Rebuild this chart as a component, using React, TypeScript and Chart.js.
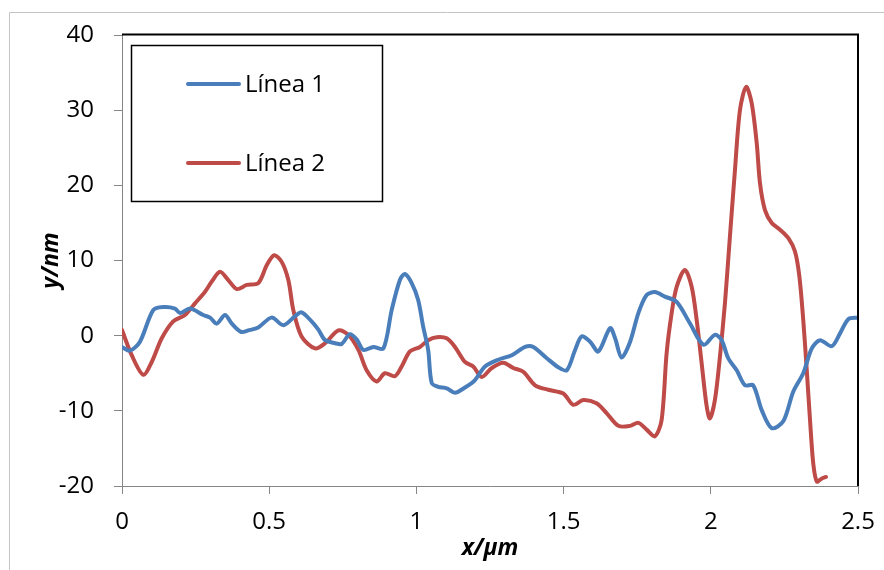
import React, { useEffect, useRef } from "react";
import { Chart, registerables } from "chart.js";

Chart.register(...registerables);

// ---- Data (x in µm, y in nm) ----
const seriesNames = ["Línea 1", "Línea 2"];

const linea1X = [0.0, 0.027, 0.061, 0.106, 0.14, 0.18, 0.197, 0.231, 0.276, 0.299, 0.322, 0.35, 0.373, 0.404, 0.429, 0.463, 0.508, 0.548, 0.588, 0.61, 0.644, 0.667, 0.69, 0.724, 0.746, 0.774, 0.797, 0.82, 0.854, 0.888, 0.916, 0.944, 0.961, 0.984, 1.006, 1.023, 1.04, 1.052, 1.074, 1.103, 1.131, 1.165, 1.199, 1.233, 1.278, 1.324, 1.369, 1.397, 1.443, 1.482, 1.511, 1.539, 1.561, 1.59, 1.618, 1.658, 1.675, 1.697, 1.726, 1.754, 1.782, 1.81, 1.844, 1.884, 1.929, 1.975, 2.014, 2.037, 2.059, 2.088, 2.116, 2.144, 2.173, 2.207, 2.246, 2.28, 2.314, 2.343, 2.371, 2.411, 2.439, 2.467, 2.5];
const linea1Y = [-1.5, -2.0, -0.8, 3.4, 3.8, 3.6, 3.0, 3.6, 2.75, 2.4, 1.6, 2.75, 1.6, 0.5, 0.7, 1.1, 2.4, 1.4, 2.6, 3.1, 1.9, 0.8, -0.6, -1.0, -1.1, 0.2, -0.5, -1.9, -1.5, -1.7, 3.4, 7.4, 8.2, 7.0, 4.75, 1.2, -1.9, -6.3, -6.8, -7.0, -7.6, -6.9, -5.9, -4.1, -3.2, -2.6, -1.5, -1.5, -3.0, -4.2, -4.6, -1.9, -0.1, -0.8, -2.1, 1.0, -0.35, -2.9, -0.8, 3.0, 5.4, 5.8, 5.2, 4.5, 1.65, -1.2, 0.1, -0.6, -3.0, -4.6, -6.6, -6.6, -9.9, -12.3, -11.4, -7.45, -5.0, -1.7, -0.6, -1.4, 0.3, 2.2, 2.4];

const linea2X = [0.0, 0.033, 0.072, 0.101, 0.135, 0.174, 0.214, 0.248, 0.282, 0.305, 0.333, 0.361, 0.39, 0.424, 0.463, 0.492, 0.517, 0.542, 0.565, 0.582, 0.61, 0.656, 0.69, 0.735, 0.769, 0.803, 0.831, 0.865, 0.893, 0.927, 0.95, 0.978, 1.012, 1.04, 1.069, 1.103, 1.131, 1.165, 1.193, 1.222, 1.256, 1.295, 1.329, 1.363, 1.403, 1.448, 1.499, 1.533, 1.567, 1.612, 1.646, 1.686, 1.726, 1.754, 1.782, 1.81, 1.833, 1.85, 1.867, 1.884, 1.912, 1.935, 1.952, 1.969, 1.986, 1.997, 2.014, 2.031, 2.048, 2.065, 2.082, 2.099, 2.12, 2.139, 2.156, 2.167, 2.184, 2.207, 2.235, 2.263, 2.286, 2.301, 2.314, 2.326, 2.337, 2.348, 2.36, 2.377, 2.391];
const linea2Y = [0.75, -2.6, -5.2, -3.5, -0.35, 1.9, 2.75, 4.3, 5.85, 7.2, 8.5, 7.4, 6.2, 6.75, 7.0, 9.4, 10.7, 9.85, 7.4, 3.4, -0.1, -1.7, -1.0, 0.7, 0.1, -1.9, -4.6, -6.1, -5.0, -5.4, -4.1, -2.1, -1.5, -0.6, -0.2, -0.35, -1.5, -3.5, -4.1, -5.5, -4.3, -3.6, -4.3, -4.8, -6.6, -7.2, -7.7, -9.2, -8.55, -9.0, -10.3, -12.0, -12.0, -11.6, -12.5, -13.4, -11.2, -2.3, 3.0, 6.5, 8.75, 6.5, 2.1, -3.7, -9.4, -11.0, -8.55, -2.8, 4.3, 13.2, 22.0, 30.0, 33.1, 30.9, 25.6, 20.3, 16.7, 15.0, 14.1, 13.0, 11.2, 7.85, 2.1, -4.6, -11.2, -17.0, -19.4, -19.0, -18.8];

const xTickValues = [0, 0.5, 1, 1.5, 2, 2.5];
const yTickValues = [-20, -10, 0, 10, 20, 30, 40];

const seriesColors = ["#4a7ebb", "#be4b48"];

const TICK_FONT = { family: "'Open Sans', sans-serif", size: 24 };
const TITLE_FONT = { family: "'Open Sans', sans-serif", size: 23, weight: "bold" as const, style: "italic" as const };

const framePlugin = {
  id: "framePlugin",
  beforeDraw(chart: any) {
    const ctx = chart.ctx;
    ctx.save();
    ctx.fillStyle = "#ffffff";
    ctx.fillRect(0, 0, chart.width, chart.height);
    ctx.strokeStyle = "#c4c4c4";
    ctx.lineWidth = 1;
    ctx.beginPath();
    ctx.moveTo(9.5, chart.height + 2);
    ctx.lineTo(9.5, 12.5);
    ctx.lineTo(chart.width + 2, 12.5);
    ctx.stroke();
    ctx.restore();
  },
  afterDatasetsDraw(chart: any) {
    const { ctx, chartArea } = chart;
    ctx.save();
    ctx.strokeStyle = "#000000";
    ctx.lineWidth = 2;
    ctx.beginPath();
    ctx.moveTo(chartArea.left, chartArea.top - 0.5);
    ctx.lineTo(chartArea.right, chartArea.top - 0.5);
    ctx.lineTo(chartArea.right, chartArea.bottom);
    ctx.stroke();
    ctx.restore();
  },
  afterDraw(chart: any) {
    const ctx = chart.ctx;
    ctx.save();
    // legend box
    ctx.strokeStyle = "#000000";
    ctx.lineWidth = 1.5;
    ctx.strokeRect(131.5, 45.5, 251, 156);
    const rows = [84, 163];
    chart.data.datasets.forEach((ds: any, i: number) => {
      const y = rows[i];
      ctx.strokeStyle = ds.borderColor;
      ctx.lineWidth = 4;
      ctx.lineCap = "round";
      ctx.beginPath();
      ctx.moveTo(188, y);
      ctx.lineTo(239, y);
      ctx.stroke();
      ctx.fillStyle = "#000000";
      ctx.font = "24px 'Open Sans', sans-serif";
      ctx.textBaseline = "middle";
      ctx.textAlign = "left";
      ctx.fillText(ds.label, 245, y + 1);
    });
    ctx.restore();
  },
};

export default function App() {
  const canvasRef = useRef<HTMLCanvasElement | null>(null);

  useEffect(() => {
    if (!canvasRef.current) return;
    const chart = new Chart(canvasRef.current, {
      type: "line",
      data: {
        datasets: [
          {
            label: seriesNames[0],
            data: linea1X.map((x, i) => ({ x, y: linea1Y[i] })),
            borderColor: seriesColors[0],
            backgroundColor: seriesColors[0],
            borderWidth: 4,
            pointRadius: 0,
            tension: 0.3,
            fill: false,
            borderCapStyle: "round",
            borderJoinStyle: "round",
          },
          {
            label: seriesNames[1],
            data: linea2X.map((x, i) => ({ x, y: linea2Y[i] })),
            borderColor: seriesColors[1],
            backgroundColor: seriesColors[1],
            borderWidth: 4,
            pointRadius: 0,
            tension: 0.3,
            fill: false,
            borderCapStyle: "round",
            borderJoinStyle: "round",
          },
        ],
      },
      options: {
        responsive: false,
        animation: false,
        layout: { padding: { left: 0, top: 35, right: 26, bottom: 0 } },
        plugins: {
          legend: { display: false },
          tooltip: { enabled: false },
        },
        scales: {
          x: {
            type: "linear",
            min: 0,
            max: 2.5,
            afterBuildTicks: (s: any) => {
              s.ticks = xTickValues.map((v) => ({ value: v }));
            },
            afterFit: (s: any) => {
              s.height = 84;
              s.paddingLeft = 0;
              s.paddingRight = 0;
            },
            ticks: {
              font: TICK_FONT,
              color: "#000000",
              padding: 14,
              maxRotation: 0,
              callback: (v: any) => String(v),
            },
            grid: {
              display: true,
              drawOnChartArea: false,
              drawTicks: true,
              tickLength: 8,
              color: "#868686",
              lineWidth: 1,
            },
            border: { display: true, color: "#868686", width: 1 },
            title: {
              display: true,
              text: "x/µm",
              font: TITLE_FONT,
              color: "#000000",
              padding: { top: 0, bottom: 8 },
            },
          },
          y: {
            type: "linear",
            min: -20,
            max: 40,
            afterBuildTicks: (s: any) => {
              s.ticks = yTickValues.map((v) => ({ value: v }));
            },
            afterFit: (s: any) => {
              s.width = 122;
              s.paddingTop = 0;
              s.paddingBottom = 0;
            },
            ticks: {
              font: TICK_FONT,
              color: "#000000",
              padding: 20,
              callback: (v: any) => String(v),
            },
            grid: {
              display: true,
              drawOnChartArea: false,
              drawTicks: true,
              tickLength: 8,
              color: "#868686",
              lineWidth: 1,
            },
            border: { display: true, color: "#868686", width: 1 },
            title: {
              display: true,
              text: "y/nm",
              font: TITLE_FONT,
              color: "#000000",
              padding: { top: 38, bottom: 0 },
            },
          },
        },
      },
      plugins: [framePlugin],
    } as any);
    return () => chart.destroy();
  }, []);

  return (
    <canvas
      ref={canvasRef}
      width={884}
      height={570}
      style={{ position: "absolute", left: 0, top: 0, display: "block" }}
    />
  );
}
